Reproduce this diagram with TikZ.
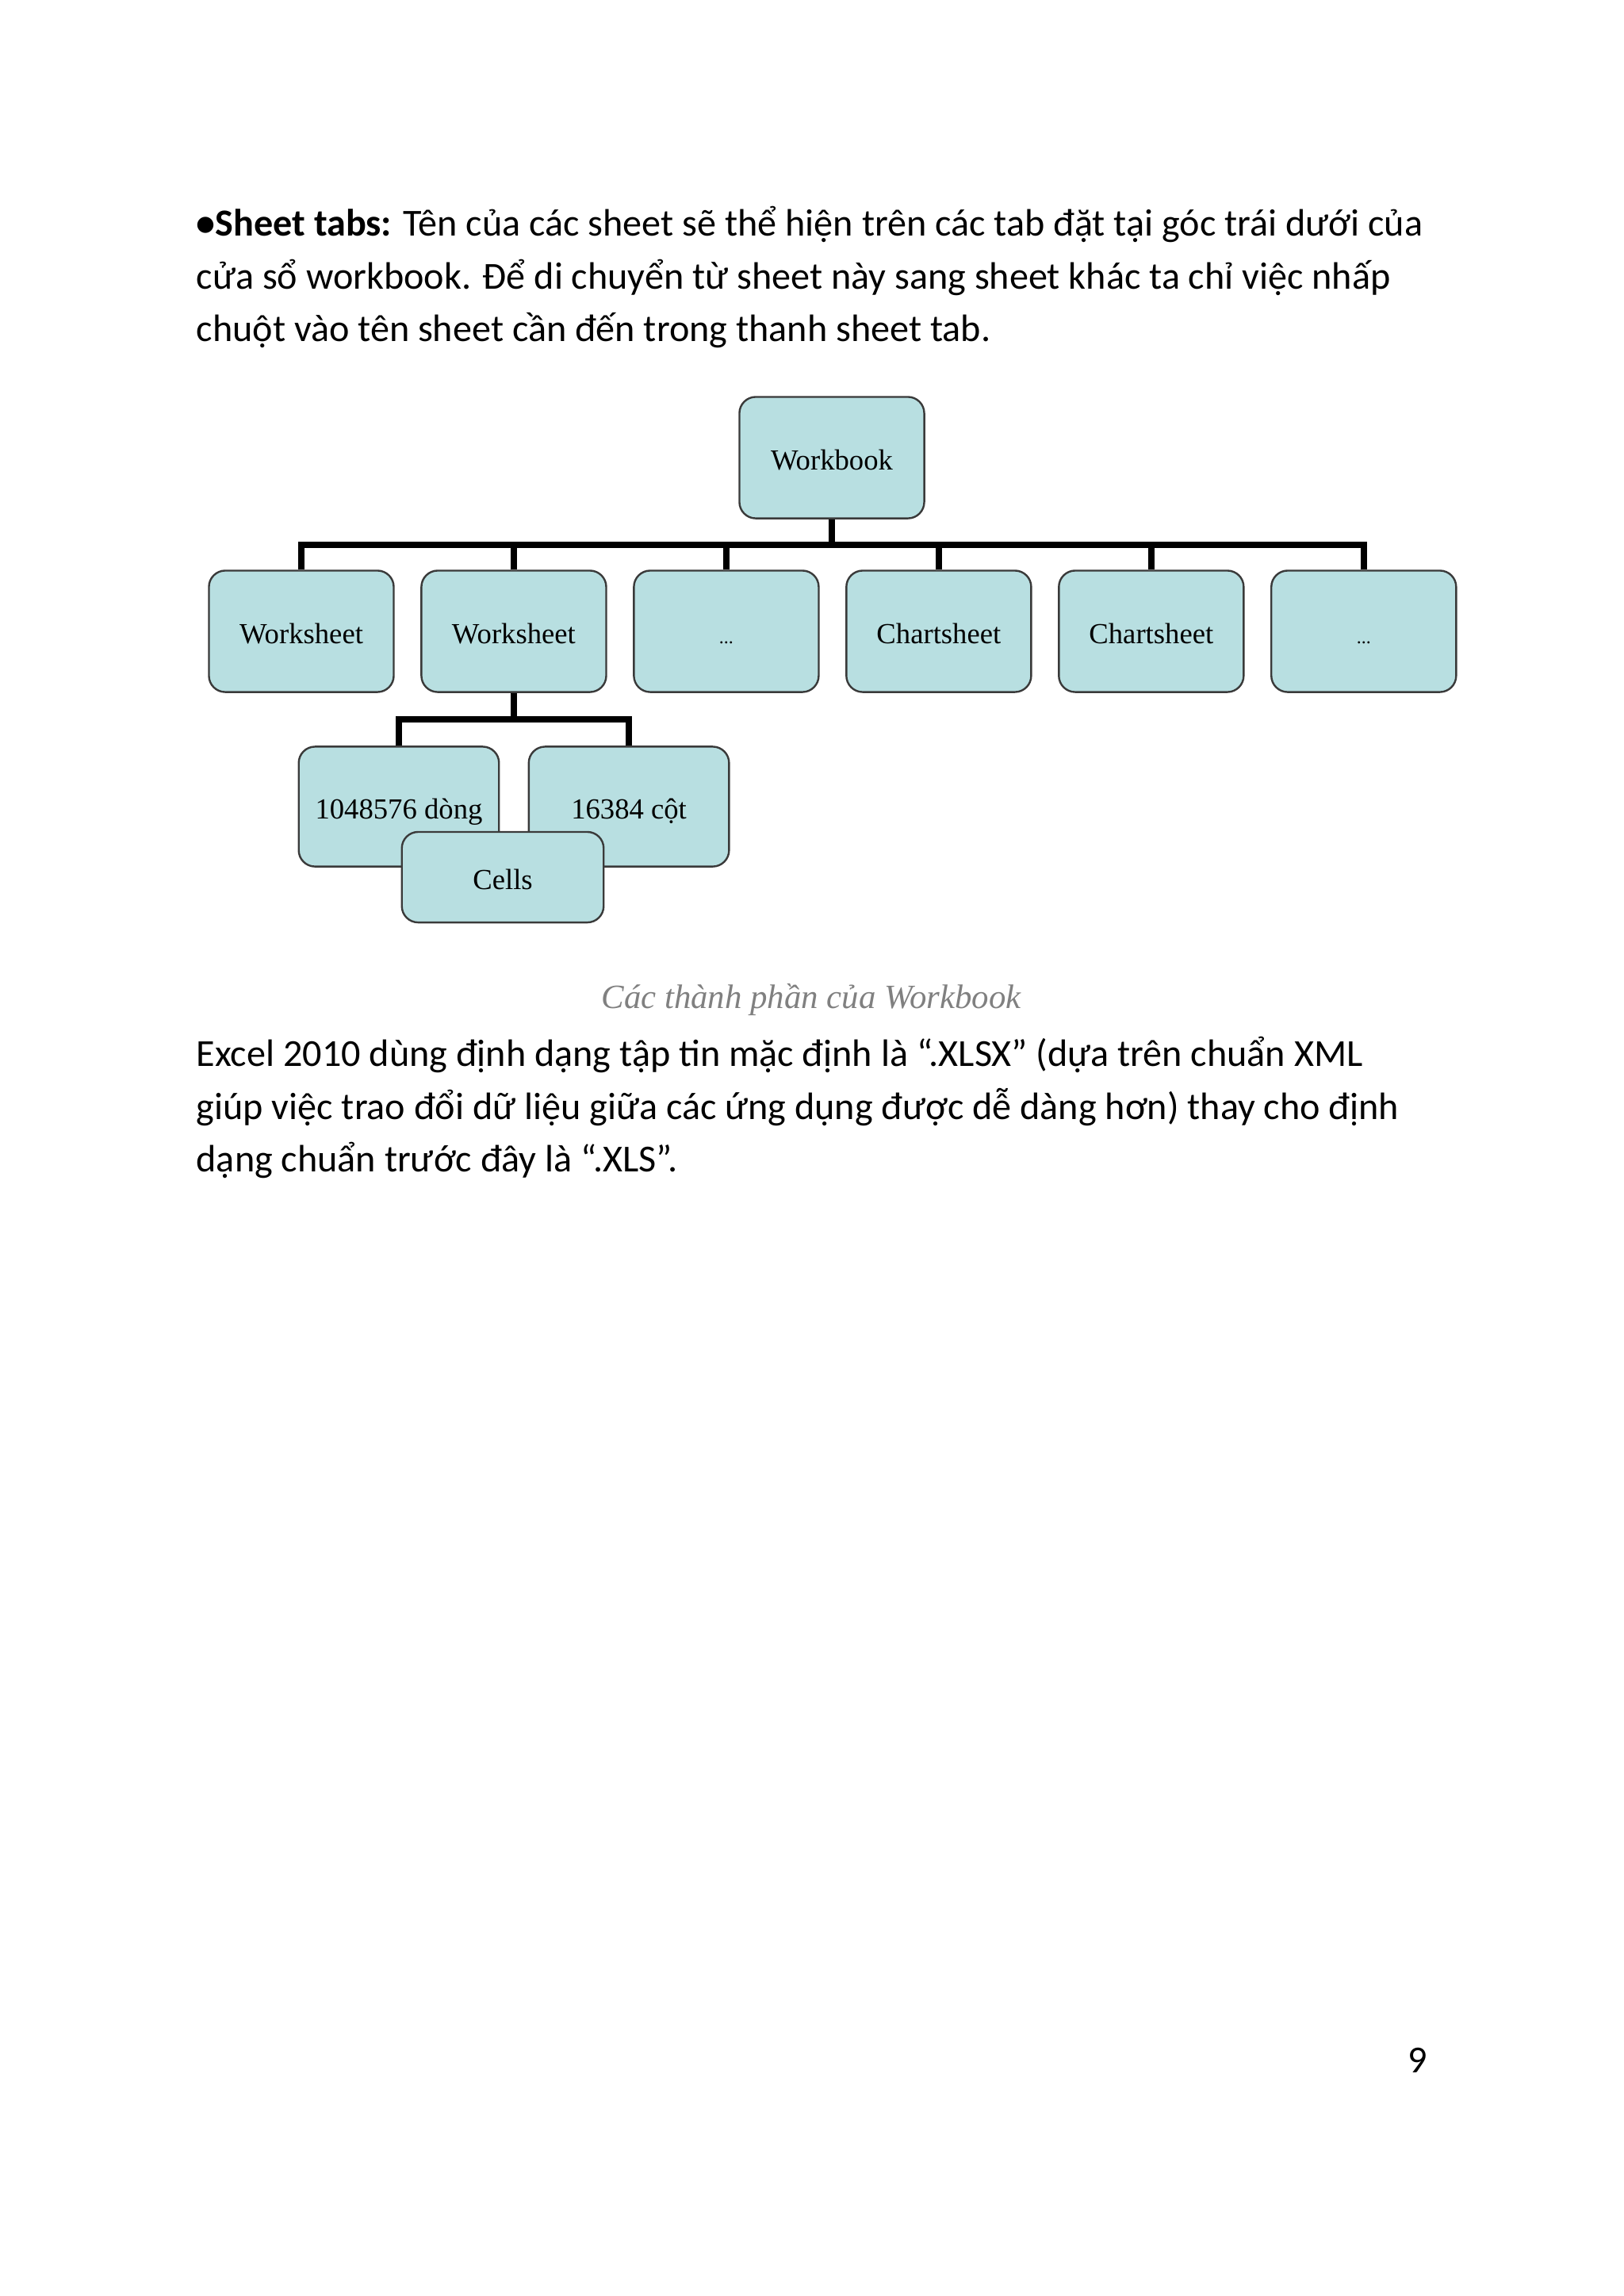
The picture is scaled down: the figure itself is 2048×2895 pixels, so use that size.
\documentclass[tikz,border=0pt]{standalone}
\usepackage{fontspec}
\setmainfont{Carlito}
\newfontfamily\chartfont{Liberation Serif}
\usepackage{xcolor}
\usetikzlibrary{positioning}
\definecolor{boxfill}{HTML}{B8DFE1}
\definecolor{boxline}{HTML}{3A3A3A}
\definecolor{capgray}{HTML}{808080}
\tikzset{
  orgBox/.style = {rectangle, rounded corners=6pt, draw=boxline, line width=0.7pt,
    fill=boxfill, minimum width=2.39cm, minimum height=1.57cm, inner sep=0pt,
    text height=2.4ex, text depth=0.5ex,
    align=center, font=\chartfont\fontsize{10.7}{12}\selectfont},
  subBox/.style = {orgBox, minimum width=2.59cm, minimum height=1.55cm},
  cellBox/.style = {orgBox, minimum width=2.61cm, minimum height=1.17cm},
  link/.style = {line width=2.3pt, draw=black},
  bodyText/.style = {anchor=base west, inner sep=0pt, font=\fontsize{14.05}{17}\selectfont},
  capText/.style = {anchor=base, inner sep=0pt, text=capgray,
    font=\chartfont\itshape\fontsize{12.5}{15}\selectfont},
}
\newcommand{\smalldots}{{\fontsize{7}{8}\selectfont...}}

\begin{document}
\begin{tikzpicture}[x=0.01025cm, y=-0.01025cm]
\useasboundingbox[fill=white] (0,0) rectangle (2048,2895);

% text above the chart
\node[bodyText] (p1) at (247,297) {\textbf{•Sheet tabs:} Tên của các sheet sẽ thể hiện trên các tab đặt tại góc trái dưới của};
\node[bodyText] (p2) at (247,364) {cửa sổ workbook. Để di chuyển từ sheet này sang sheet khác ta chỉ việc nhấp};
\node[bodyText] (p3) at (247,430) {chuột vào tên sheet cần đến trong thanh sheet tab.};

% chart
\node[orgBox] (wb) at (1049,577) {Workbook};
\node[orgBox] (ws1) at (380,796) {Worksheet};
\node[orgBox, right=0.333cm of ws1] (ws2) {Worksheet};
\node[orgBox, right=0.333cm of ws2] (etc1) {\smalldots};
\node[orgBox, right=0.333cm of etc1] (cs1) {Chartsheet};
\node[orgBox, right=0.333cm of cs1] (cs2) {Chartsheet};
\node[orgBox, right=0.333cm of cs2] (etc2) {\smalldots};
\node[subBox] (rows) at (503,1017) {1048576 dòng};
\node[subBox, right=0.36cm of rows] (cols) {16384 cột};
\node[cellBox] (cells) at (634,1106) {Cells};

\coordinate (busA) at (1049,687);
\coordinate (busB) at (ws2.south |- 0,907);
\draw[link] (wb.south) -- (busA);
\draw[link] (busA) -| (ws1.north);
\draw[link] (busA) -| (ws2.north);
\draw[link] (busA) -| (etc1.north);
\draw[link] (busA) -| (cs1.north);
\draw[link] (busA) -| (cs2.north);
\draw[link] (busA) -| (etc2.north);
\draw[link] (ws2.south) -- (busB);
\draw[link] (busB) -| (rows.north);
\draw[link] (busB) -| (cols.north);

\node[capText] (cap) at (1023,1271) {Các thành phần của Workbook};

% text below the chart
\node[bodyText] (q1) at (247,1344) {Excel 2010 dùng định dạng tập tin mặc định là “.XLSX” (dựa trên chuẩn XML};
\node[bodyText] (q2) at (247,1411) {giúp việc trao đổi dữ liệu giữa các ứng dụng được dễ dàng hơn) thay cho định};
\node[bodyText] (q3) at (247,1477) {dạng chuẩn trước đây là “.XLS”.};

\node[bodyText, anchor=base] (pg) at (1788,2613) {9};

\end{tikzpicture}
\end{document}
